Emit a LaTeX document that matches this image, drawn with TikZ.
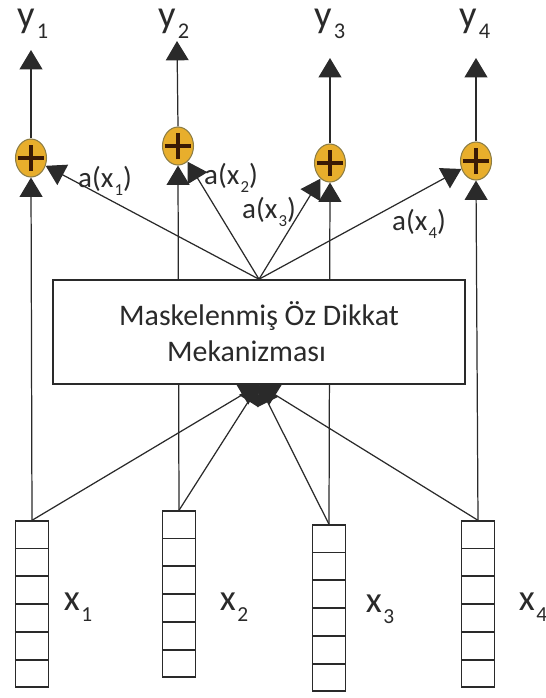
\documentclass[tikz,border=0pt]{standalone}
\usepackage{fontspec}
\setmainfont{Carlito}
\usetikzlibrary{arrows.meta,shapes.geometric,calc,positioning}

\definecolor{plusfill}{HTML}{E8AE2C}
\definecolor{plusedge}{HTML}{8C7D45}
\definecolor{plusink}{HTML}{3A1A05}
\definecolor{wire}{HTML}{2A2A2A}

% low, small index digit
\newcommand{\idx}[1]{\kern0.04em\raisebox{-0.3em}{\scalebox{0.58}{#1}}}

\tikzset{
	vec/.style={draw=wire, line width=0.8pt, minimum width=0.66cm, minimum height=3.32cm, inner sep=0pt},
	plus/.style={ellipse, draw=plusedge, fill=plusfill, line width=0.6pt, minimum width=0.62cm, minimum height=0.76cm, inner sep=0pt},
	outlbl/.style={font=\fontsize{22}{26}\selectfont, text=wire, inner sep=0pt, anchor=base},
	inlbl/.style={font=\fontsize{21}{25}\selectfont, text=wire, inner sep=0pt, anchor=base},
	attlbl/.style={font=\fontsize{16.5}{20}\selectfont, text=wire, inner sep=0pt, anchor=base},
	wires/.style={draw=wire, line width=0.7pt, -{Triangle[width=13pt,length=11pt]}}
}

\begin{document}
\begin{tikzpicture}[x=0.02cm, y=-0.02cm]
	\useasboundingbox (0,0) rectangle (546,698);

	% input vectors
	\node[vec] (v1) at (32,604) {};
	\node[vec] (v2) at (179,594) {};
	\node[vec] (v3) at (329,608) {};
	\node[vec] (v4) at (478,604) {};
	\foreach \v in {v1,v2,v3,v4}
		\foreach \k in {1,...,5}
			\draw[wire, line width=0.8pt] ($(\v.north west)!\k/6!(\v.south west)$) -- ($(\v.north east)!\k/6!(\v.south east)$);

	\node[inlbl] (x1) at (78,610) {x\idx{1}};
	\node[inlbl] (x2) at (234,610) {x\idx{2}};
	\node[inlbl] (x3) at (380,612) {x\idx{3}};
	\node[inlbl] (x4) at (533,610) {x\idx{4}};

	% sums
	\node[plus] (p1) at (31,158) {};
	\node[plus] (p2) at (178,146) {};
	\node[plus] (p3) at (330,163) {};
	\node[plus] (p4) at (476,161) {};
	\foreach \p in {p1,p2,p3,p4}
		\draw[plusink, line width=1.8pt]
			([xshift=-0.27cm]\p.center) -- ([xshift=0.27cm]\p.center)
			([yshift=-0.26cm]\p.center) -- ([yshift=0.26cm]\p.center);

	% outputs
	\node[outlbl] (y1) at (33,27) {y\idx{1}};
	\node[outlbl] (y2) at (174,27) {y\idx{2}};
	\node[outlbl] (y3) at (330,27) {y\idx{3}};
	\node[outlbl] (y4) at (475,27) {y\idx{4}};
	\coordinate (t1) at (31,50);
	\coordinate (t2) at (177,41);
	\coordinate (t3) at (330,58);
	\coordinate (t4) at (476,58);

	\path
		(v1.north) edge[wires] (p1.south)
		(v2.north) edge[wires] (p2.south)
		(v3.north) edge[wires] (p3.south)
		(v4.north) edge[wires] (p4.south)

		(p1.north) edge[wires] (t1)
		(p2.north) edge[wires] (t2)
		(p3.north) edge[wires] (t3)
		(p4.north) edge[wires] (t4);

	% attention block
	\node[draw=wire, fill=white, line width=0.9pt, minimum width=8.24cm, minimum height=2.08cm,
		align=center, font=\fontsize{17}{20.5}\selectfont, text=wire] (att) at (259,332)
		{Maskelenmiş Öz Dikkat\\Mekanizması\hspace*{0.5cm}};

	\path
		(v1.north) edge[wires] (att.south)
		(v2.north) edge[wires] (att.south)
		(v3.north) edge[wires] (att.south)
		(v4.north) edge[wires] (att.south)

		(att.north) edge[wires] (p1)
		(att.north) edge[wires] (p2)
		(att.north) edge[wires] (p3)
		(att.north) edge[wires] (p4);

	\node[attlbl] (a1) at (105,187) {a(x\idx{1})};
	\node[attlbl] (a2) at (231,184) {a(x\idx{2})};
	\node[attlbl] (a3) at (269,218) {a(x\idx{3})};
	\node[attlbl] (a4) at (419,230) {a(x\idx{4})};

\end{tikzpicture}
\end{document}
